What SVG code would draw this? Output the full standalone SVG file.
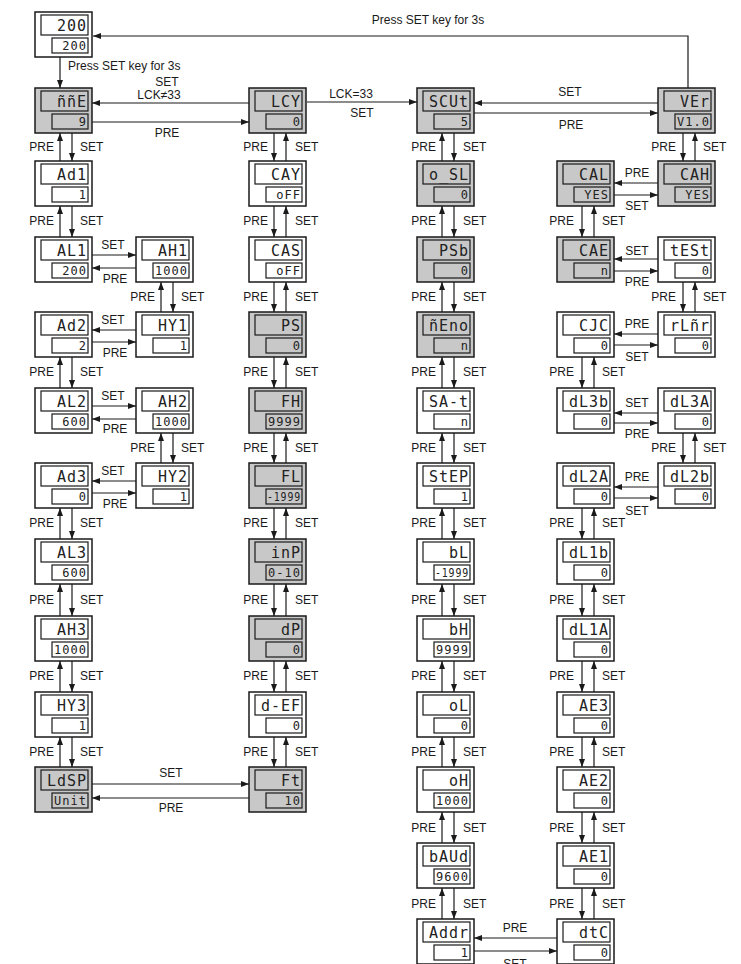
<svg xmlns="http://www.w3.org/2000/svg" width="741" height="964" viewBox="0 0 741 964">
<style>
.box{stroke:#1a1a1a;stroke-width:1.5}
.w{fill:#fff}
.g{fill:#c8c8c8}
.d{fill:none;stroke:#1a1a1a;stroke-width:1.2}
.t1{font-family:"DejaVu Sans Mono","Liberation Mono",monospace;font-size:15px;text-anchor:end;fill:#222;letter-spacing:1px}
.t2{font-family:"DejaVu Sans Mono","Liberation Mono",monospace;font-size:12px;text-anchor:end;fill:#222;letter-spacing:1px}
.lbl{font-family:"Liberation Sans",Arial,sans-serif;font-size:12px;fill:#1a1a1a}
.e{text-anchor:end}
.m{text-anchor:middle}
.c path{fill:none;stroke:#1a1a1a;stroke-width:1.2;marker-end:url(#ah)}
</style>
<defs>
<marker id="ah" viewBox="0 0 8 6" refX="8" refY="3" markerWidth="8" markerHeight="6" markerUnits="userSpaceOnUse" orient="auto"><path d="M0,0L8,3L0,6z" fill="#1a1a1a"/></marker>
<g id="frame-w"><rect class="box w" width="57" height="45"/><rect class="d" x="6" y="3" width="47" height="20"/><rect class="d" x="17" y="26" width="36" height="15"/></g>
<g id="frame-g"><rect class="box g" width="57" height="45"/><rect class="d" x="6" y="3" width="47" height="20"/><rect class="d" x="17" y="26" width="36" height="15"/></g>
</defs>

<!-- Column A -->
<g id="n-top" transform="translate(35,12)"><use href="#frame-w"/><text class="t1" x="52" y="19">200</text><text class="t2" x="52" y="38">200</text></g>
<g id="n-mAE" transform="translate(35,88)"><use href="#frame-g"/><text class="t1" x="52" y="19">ññE</text><text class="t2" x="52" y="38">9</text></g>
<g id="n-Ad1" transform="translate(35,161)"><use href="#frame-w"/><text class="t1" x="52" y="19">Ad1</text><text class="t2" x="52" y="38">1</text></g>
<g id="n-AL1" transform="translate(35,237)"><use href="#frame-w"/><text class="t1" x="52" y="19">AL1</text><text class="t2" x="52" y="38">200</text></g>
<g id="n-Ad2" transform="translate(35,312)"><use href="#frame-w"/><text class="t1" x="52" y="19">Ad2</text><text class="t2" x="52" y="38">2</text></g>
<g id="n-AL2" transform="translate(35,388)"><use href="#frame-w"/><text class="t1" x="52" y="19">AL2</text><text class="t2" x="52" y="38">600</text></g>
<g id="n-Ad3" transform="translate(35,463)"><use href="#frame-w"/><text class="t1" x="52" y="19">Ad3</text><text class="t2" x="52" y="38">0</text></g>
<g id="n-AL3" transform="translate(35,539)"><use href="#frame-w"/><text class="t1" x="52" y="19">AL3</text><text class="t2" x="52" y="38">600</text></g>
<g id="n-AH3" transform="translate(35,616)"><use href="#frame-w"/><text class="t1" x="52" y="19">AH3</text><text class="t2" x="52" y="38">1000</text></g>
<g id="n-HY3" transform="translate(35,692)"><use href="#frame-w"/><text class="t1" x="52" y="19">HY3</text><text class="t2" x="52" y="38">1</text></g>
<g id="n-LdSP" transform="translate(35,767)"><use href="#frame-g"/><text class="t1" x="52" y="19">LdSP</text><text class="t2" x="52" y="38">Unit</text></g>
<!-- Column A2 -->
<g id="n-AH1" transform="translate(136,237)"><use href="#frame-w"/><text class="t1" x="52" y="19">AH1</text><text class="t2" x="52" y="38">1000</text></g>
<g id="n-HY1" transform="translate(136,312)"><use href="#frame-w"/><text class="t1" x="52" y="19">HY1</text><text class="t2" x="52" y="38">1</text></g>
<g id="n-AH2" transform="translate(136,388)"><use href="#frame-w"/><text class="t1" x="52" y="19">AH2</text><text class="t2" x="52" y="38">1000</text></g>
<g id="n-HY2" transform="translate(136,463)"><use href="#frame-w"/><text class="t1" x="52" y="19">HY2</text><text class="t2" x="52" y="38">1</text></g>
<!-- Column B -->
<g id="n-LCY" transform="translate(249,88)"><use href="#frame-g"/><text class="t1" x="52" y="19">LCY</text><text class="t2" x="52" y="38">0</text></g>
<g id="n-CAY" transform="translate(249,161)"><use href="#frame-w"/><text class="t1" x="52" y="19">CAY</text><text class="t2" x="52" y="38">oFF</text></g>
<g id="n-CAS" transform="translate(249,237)"><use href="#frame-w"/><text class="t1" x="52" y="19">CAS</text><text class="t2" x="52" y="38">oFF</text></g>
<g id="n-PS" transform="translate(249,312)"><use href="#frame-g"/><text class="t1" x="52" y="19">PS</text><text class="t2" x="52" y="38">0</text></g>
<g id="n-FH" transform="translate(249,388)"><use href="#frame-g"/><text class="t1" x="52" y="19">FH</text><text class="t2" x="52" y="38">9999</text></g>
<g id="n-FL" transform="translate(249,463)"><use href="#frame-g"/><text class="t1" x="52" y="19">FL</text><text class="t2" x="52" y="38" textLength="34" lengthAdjust="spacingAndGlyphs">-1999</text></g>
<g id="n-inP" transform="translate(249,539)"><use href="#frame-g"/><text class="t1" x="52" y="19">inP</text><text class="t2" x="52" y="38">0-10</text></g>
<g id="n-dP" transform="translate(249,616)"><use href="#frame-g"/><text class="t1" x="52" y="19">dP</text><text class="t2" x="52" y="38">0</text></g>
<g id="n-dREF" transform="translate(249,692)"><use href="#frame-w"/><text class="t1" x="52" y="19">d-EF</text><text class="t2" x="52" y="38">0</text></g>
<g id="n-Ft" transform="translate(249,767)"><use href="#frame-g"/><text class="t1" x="52" y="19">Ft</text><text class="t2" x="52" y="38">10</text></g>
<!-- Column C -->
<g id="n-SCUt" transform="translate(417,88)"><use href="#frame-g"/><text class="t1" x="52" y="19">SCUt</text><text class="t2" x="52" y="38">5</text></g>
<g id="n-oSL" transform="translate(417,161)"><use href="#frame-g"/><text class="t1" x="52" y="19">o_SL</text><text class="t2" x="52" y="38">0</text></g>
<g id="n-PSb" transform="translate(417,237)"><use href="#frame-g"/><text class="t1" x="52" y="19">PSb</text><text class="t2" x="52" y="38">0</text></g>
<g id="n-nEno" transform="translate(417,312)"><use href="#frame-g"/><text class="t1" x="52" y="19">ñEno</text><text class="t2" x="52" y="38">n</text></g>
<g id="n-SAt" transform="translate(417,388)"><use href="#frame-w"/><text class="t1" x="52" y="19">SA-t</text><text class="t2" x="52" y="38">n</text></g>
<g id="n-StEP" transform="translate(417,463)"><use href="#frame-w"/><text class="t1" x="52" y="19">StEP</text><text class="t2" x="52" y="38">1</text></g>
<g id="n-bL" transform="translate(417,539)"><use href="#frame-w"/><text class="t1" x="52" y="19">bL</text><text class="t2" x="52" y="38" textLength="34" lengthAdjust="spacingAndGlyphs">-1999</text></g>
<g id="n-bH" transform="translate(417,616)"><use href="#frame-w"/><text class="t1" x="52" y="19">bH</text><text class="t2" x="52" y="38">9999</text></g>
<g id="n-oL" transform="translate(417,692)"><use href="#frame-w"/><text class="t1" x="52" y="19">oL</text><text class="t2" x="52" y="38">0</text></g>
<g id="n-oH" transform="translate(417,767)"><use href="#frame-w"/><text class="t1" x="52" y="19">oH</text><text class="t2" x="52" y="38">1000</text></g>
<g id="n-bAUd" transform="translate(417,843)"><use href="#frame-w"/><text class="t1" x="52" y="19">bAUd</text><text class="t2" x="52" y="38">9600</text></g>
<g id="n-Addr" transform="translate(417,919)"><use href="#frame-w"/><text class="t1" x="52" y="19">Addr</text><text class="t2" x="52" y="38">1</text></g>
<!-- Column D -->
<g id="n-CAL" transform="translate(557,161)"><use href="#frame-g"/><text class="t1" x="52" y="19">CAL</text><text class="t2" x="52" y="38">YES</text></g>
<g id="n-CAE" transform="translate(557,237)"><use href="#frame-g"/><text class="t1" x="52" y="19">CAE</text><text class="t2" x="52" y="38">n</text></g>
<g id="n-CJC" transform="translate(557,312)"><use href="#frame-w"/><text class="t1" x="52" y="19">CJC</text><text class="t2" x="52" y="38">0</text></g>
<g id="n-dL3b" transform="translate(557,388)"><use href="#frame-w"/><text class="t1" x="52" y="19">dL3b</text><text class="t2" x="52" y="38">0</text></g>
<g id="n-dL2A" transform="translate(557,463)"><use href="#frame-w"/><text class="t1" x="52" y="19">dL2A</text><text class="t2" x="52" y="38">0</text></g>
<g id="n-dL1b" transform="translate(557,539)"><use href="#frame-w"/><text class="t1" x="52" y="19">dL1b</text><text class="t2" x="52" y="38">0</text></g>
<g id="n-dL1A" transform="translate(557,616)"><use href="#frame-w"/><text class="t1" x="52" y="19">dL1A</text><text class="t2" x="52" y="38">0</text></g>
<g id="n-AE3" transform="translate(557,692)"><use href="#frame-w"/><text class="t1" x="52" y="19">AE3</text><text class="t2" x="52" y="38">0</text></g>
<g id="n-AE2" transform="translate(557,767)"><use href="#frame-w"/><text class="t1" x="52" y="19">AE2</text><text class="t2" x="52" y="38">0</text></g>
<g id="n-AE1" transform="translate(557,843)"><use href="#frame-w"/><text class="t1" x="52" y="19">AE1</text><text class="t2" x="52" y="38">0</text></g>
<g id="n-dtC" transform="translate(557,919)"><use href="#frame-w"/><text class="t1" x="52" y="19">dtC</text><text class="t2" x="52" y="38">0</text></g>
<!-- Column E -->
<g id="n-VEr" transform="translate(658,88)"><use href="#frame-g"/><text class="t1" x="52" y="19">VEr</text><text class="t2" x="52" y="38">V1.0</text></g>
<g id="n-CAH" transform="translate(658,161)"><use href="#frame-g"/><text class="t1" x="52" y="19">CAH</text><text class="t2" x="52" y="38">YES</text></g>
<g id="n-tESt" transform="translate(658,237)"><use href="#frame-w"/><text class="t1" x="52" y="19">tESt</text><text class="t2" x="52" y="38">0</text></g>
<g id="n-rLnr" transform="translate(658,312)"><use href="#frame-w"/><text class="t1" x="52" y="19">rLñr</text><text class="t2" x="52" y="38">0</text></g>
<g id="n-dL3A" transform="translate(658,388)"><use href="#frame-w"/><text class="t1" x="52" y="19">dL3A</text><text class="t2" x="52" y="38">0</text></g>
<g id="n-dL2b" transform="translate(658,463)"><use href="#frame-w"/><text class="t1" x="52" y="19">dL2b</text><text class="t2" x="52" y="38">0</text></g>

<g id="connectors" class="c">
<!-- top loop and entry -->
<path d="M688 88V36H93"/>
<path d="M60 57V88"/>
<!-- row1 horizontals -->
<path d="M249 103H92"/>
<path d="M92 122H249"/>
<path d="M307 102H417"/>
<path d="M658 103H474"/>
<path d="M474 113H658"/>
<!-- column A verticals: PRE up, SET down -->
<path d="M60 161V133"/><path d="M72 133V161"/>
<path d="M60 237V206"/><path d="M72 206V237"/>
<path d="M60 388V357"/><path d="M72 357V388"/>
<path d="M60 539V508"/><path d="M72 508V539"/>
<path d="M60 616V584"/><path d="M72 584V616"/>
<path d="M60 692V661"/><path d="M72 661V692"/>
<path d="M60 767V737"/><path d="M72 737V767"/>
<!-- column A2 -->
<path d="M161 312V282"/><path d="M173 282V312"/>
<path d="M161 463V433"/><path d="M173 433V463"/>
<!-- A/A2 horizontals -->
<path d="M92 255H136"/><path d="M136 268H92"/>
<path d="M136 330H92"/><path d="M92 342H136"/>
<path d="M92 406H136"/><path d="M136 419H92"/>
<path d="M136 481H92"/><path d="M92 493H136"/>
<path d="M92 784H249"/><path d="M249 798H92"/>
<!-- column B: PRE down, SET up -->
<path d="M274 133V161"/><path d="M286 161V133"/>
<path d="M274 206V237"/><path d="M286 237V206"/>
<path d="M274 282V312"/><path d="M286 312V282"/>
<path d="M274 357V388"/><path d="M286 388V357"/>
<path d="M274 433V463"/><path d="M286 463V433"/>
<path d="M274 508V539"/><path d="M286 539V508"/>
<path d="M274 584V616"/><path d="M286 616V584"/>
<path d="M274 661V692"/><path d="M286 692V661"/>
<path d="M274 737V767"/><path d="M286 767V737"/>
<!-- column C: PRE up, SET down -->
<path d="M442 161V133"/><path d="M454 133V161"/>
<path d="M442 237V206"/><path d="M454 206V237"/>
<path d="M442 312V282"/><path d="M454 282V312"/>
<path d="M442 388V357"/><path d="M454 357V388"/>
<path d="M442 463V433"/><path d="M454 433V463"/>
<path d="M442 539V508"/><path d="M454 508V539"/>
<path d="M442 616V584"/><path d="M454 584V616"/>
<path d="M442 692V661"/><path d="M454 661V692"/>
<path d="M442 767V737"/><path d="M454 737V767"/>
<path d="M442 843V812"/><path d="M454 812V843"/>
<path d="M442 919V888"/><path d="M454 888V919"/>
<!-- column D: PRE down, SET up -->
<path d="M582 206V237"/><path d="M594 237V206"/>
<path d="M582 357V388"/><path d="M594 388V357"/>
<path d="M582 508V539"/><path d="M594 539V508"/>
<path d="M582 584V616"/><path d="M594 616V584"/>
<path d="M582 661V692"/><path d="M594 692V661"/>
<path d="M582 737V767"/><path d="M594 767V737"/>
<path d="M582 812V843"/><path d="M594 843V812"/>
<path d="M582 888V919"/><path d="M594 919V888"/>
<!-- column E: PRE down, SET up -->
<path d="M683 133V161"/><path d="M695 161V133"/>
<path d="M683 282V312"/><path d="M695 312V282"/>
<path d="M683 433V463"/><path d="M695 463V433"/>
<!-- D/E horizontals -->
<path d="M658 183H614"/><path d="M614 195H658"/>
<path d="M658 259H614"/><path d="M614 271H658"/>
<path d="M658 334H614"/><path d="M614 345H658"/>
<path d="M658 413H614"/><path d="M614 423H658"/>
<path d="M658 487H614"/><path d="M614 498H658"/>
<!-- Addr / dtC -->
<path d="M557 938H474"/><path d="M474 951H557"/>
</g>

<g id="labels" class="lbl">
<text x="428" y="24" class="m">Press SET key for 3s</text>
<text x="68" y="70">Press SET key for 3s</text>
<text x="167" y="85.5" class="m">SET</text>
<text x="159" y="99" class="m">LCK≠33</text>
<text x="167" y="137" class="m">PRE</text>
<text x="351" y="98" class="m">LCK=33</text>
<text x="362" y="117" class="m">SET</text>
<text x="570" y="96" class="m">SET</text>
<text x="571" y="129" class="m">PRE</text>
<!-- A column -->
<g class="e"><text x="54" y="151">PRE</text><text x="54" y="225">PRE</text><text x="54" y="376">PRE</text><text x="54" y="527">PRE</text><text x="54" y="604">PRE</text><text x="54" y="680">PRE</text><text x="54" y="756">PRE</text></g>
<text x="80" y="151">SET</text><text x="80" y="225">SET</text><text x="80" y="376">SET</text><text x="80" y="527">SET</text><text x="80" y="604">SET</text><text x="80" y="680">SET</text><text x="80" y="756">SET</text>
<!-- A2 -->
<g class="e"><text x="155" y="301">PRE</text><text x="155" y="452">PRE</text></g>
<text x="181" y="301">SET</text><text x="181" y="452">SET</text>
<!-- A/A2 horizontals -->
<g class="m">
<text x="113" y="249">SET</text><text x="115" y="283">PRE</text>
<text x="113" y="324">SET</text><text x="115" y="357">PRE</text>
<text x="113" y="400">SET</text><text x="115" y="433">PRE</text>
<text x="113" y="475">SET</text><text x="115" y="508">PRE</text>
<text x="171" y="777">SET</text><text x="171" y="812">PRE</text>
</g>
<!-- B -->
<g class="e"><text x="268" y="151">PRE</text><text x="268" y="225">PRE</text><text x="268" y="301">PRE</text><text x="268" y="376">PRE</text><text x="268" y="452">PRE</text><text x="268" y="527">PRE</text><text x="268" y="604">PRE</text><text x="268" y="680">PRE</text><text x="268" y="756">PRE</text></g>
<text x="295" y="151">SET</text><text x="295" y="225">SET</text><text x="295" y="301">SET</text><text x="295" y="376">SET</text><text x="295" y="452">SET</text><text x="295" y="527">SET</text><text x="295" y="604">SET</text><text x="295" y="680">SET</text><text x="295" y="756">SET</text>
<!-- C -->
<g class="e"><text x="436" y="151">PRE</text><text x="436" y="225">PRE</text><text x="436" y="301">PRE</text><text x="436" y="376">PRE</text><text x="436" y="452">PRE</text><text x="436" y="527">PRE</text><text x="436" y="604">PRE</text><text x="436" y="680">PRE</text><text x="436" y="756">PRE</text><text x="436" y="832">PRE</text><text x="436" y="908">PRE</text></g>
<text x="463" y="151">SET</text><text x="463" y="225">SET</text><text x="463" y="301">SET</text><text x="463" y="376">SET</text><text x="463" y="452">SET</text><text x="463" y="527">SET</text><text x="463" y="604">SET</text><text x="463" y="680">SET</text><text x="463" y="756">SET</text><text x="463" y="832">SET</text><text x="463" y="908">SET</text>
<!-- D -->
<g class="e"><text x="574" y="225">PRE</text><text x="574" y="376">PRE</text><text x="574" y="527">PRE</text><text x="574" y="604">PRE</text><text x="574" y="680">PRE</text><text x="574" y="756">PRE</text><text x="574" y="832">PRE</text><text x="574" y="908">PRE</text></g>
<text x="602" y="225">SET</text><text x="602" y="376">SET</text><text x="602" y="527">SET</text><text x="602" y="604">SET</text><text x="602" y="680">SET</text><text x="602" y="756">SET</text><text x="602" y="832">SET</text><text x="602" y="908">SET</text>
<!-- E -->
<g class="e"><text x="676" y="151">PRE</text><text x="676" y="301">PRE</text><text x="676" y="452">PRE</text></g>
<text x="703" y="151">SET</text><text x="703" y="301">SET</text><text x="703" y="452">SET</text>
<!-- D/E horizontals -->
<g class="m">
<text x="637" y="177">PRE</text><text x="637" y="210">SET</text>
<text x="637" y="255">SET</text><text x="637" y="286">PRE</text>
<text x="637" y="328">PRE</text><text x="637" y="361">SET</text>
<text x="637" y="407">SET</text><text x="637" y="438">PRE</text>
<text x="637" y="481">PRE</text><text x="637" y="515">SET</text>
<text x="515" y="932">PRE</text><text x="515" y="968">SET</text>
</g>
</g>
</svg>
